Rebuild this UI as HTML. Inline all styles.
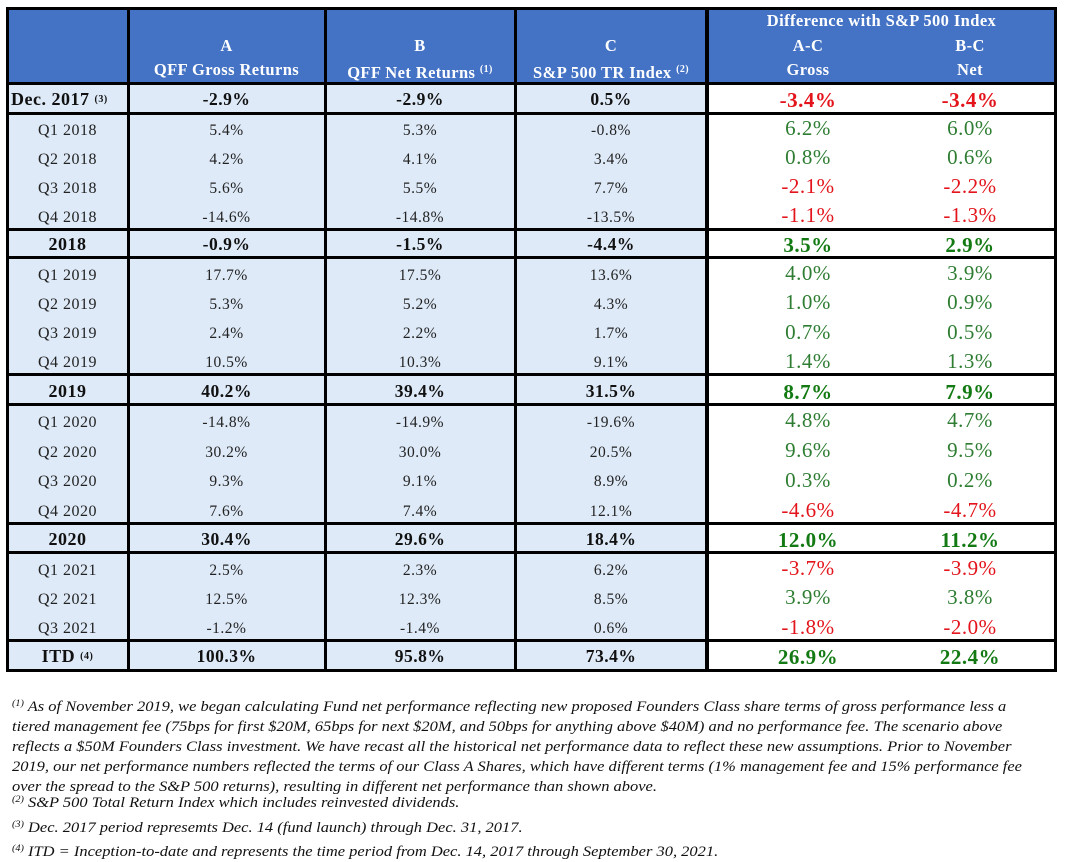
<!DOCTYPE html>
<html><head><meta charset="utf-8">
<style>
body{margin:0;width:1066px;height:862px;background:#fff;position:relative;overflow:hidden;font-family:"Liberation Serif",serif;}
.c{position:absolute;display:flex;align-items:center;justify-content:center;box-sizing:border-box;white-space:nowrap;letter-spacing:0.5px;}
.ln{position:absolute;background:#000;}
.hd{color:#fff;font-weight:bold;font-size:16.5px;position:absolute;text-align:center;white-space:nowrap;letter-spacing:0.4px;}
sup{font-size:10px;vertical-align:6px;}
.fn{position:absolute;left:12px;font-style:italic;font-size:14.5px;color:#111;white-space:nowrap;transform:scaleX(1.135);transform-origin:0 0;}
.fn sup{font-size:9px;vertical-align:5px;}
</style></head><body>
<div style="position:absolute;left:7px;top:8px;width:1049px;height:75px;background:#4472c4"></div>
<div style="position:absolute;left:7px;top:83px;width:700px;height:587px;background:#deeaf8"></div>
<div class="hd" style="left:128px;width:197px;top:34px;line-height:24px">A<br>QFF Gross Returns</div>
<div class="hd" style="left:325px;width:190px;top:34px;line-height:24px">B<br>QFF Net Returns <sup>(1)</sup></div>
<div class="hd" style="left:515px;width:192px;top:34px;line-height:24px">C<br>S&amp;P 500 TR Index <sup>(2)</sup></div>
<div class="hd" style="left:707px;width:349px;top:10px;line-height:22px">Difference with S&amp;P 500 Index</div>
<div class="hd" style="left:708px;width:200px;top:34px;line-height:24px">A-C<br>Gross</div>
<div class="hd" style="left:884px;width:172px;top:34px;line-height:24px">B-C<br>Net</div>
<div id="rows"></div>
<div class="fn" style="top:693px;line-height:20px"><sup>(1)</sup> As of November 2019, we began calculating Fund net performance reflecting new proposed Founders Class share terms of gross performance less a<br>tiered management fee (75bps for first $20M, 65bps for next $20M, and 50bps for anything above $40M) and no performance fee. The scenario above<br>reflects a $50M Founders Class investment. We have recast all the historical net performance data to reflect these new assumptions. Prior to November<br>2019, our net performance numbers reflected the terms of our Class A Shares, which have different terms (1% management fee and 15% performance fee<br>over the spread to the S&amp;P 500 returns), resulting in different net performance than shown above.</div>
<div class="fn" style="top:794px"><sup>(2)</sup> S&amp;P 500 Total Return Index which includes reinvested dividends.</div>
<div class="fn" style="top:819px"><sup>(3)</sup> Dec. 2017 period represemts Dec. 14 (fund launch) through Dec. 31, 2017.</div>
<div class="fn" style="top:843px"><sup>(4)</sup> ITD = Inception-to-date and represents the time period from Dec. 14, 2017 through September 30, 2021.</div>
<script>
const periods=["Dec. 2017","Q1 2018","Q2 2018","Q3 2018","Q4 2018","2018","Q1 2019","Q2 2019","Q3 2019","Q4 2019","2019","Q1 2020","Q2 2020","Q3 2020","Q4 2020","2020","Q1 2021","Q2 2021","Q3 2021","ITD"];
const grossA=["-2.9%","5.4%","4.2%","5.6%","-14.6%","-0.9%","17.7%","5.3%","2.4%","10.5%","40.2%","-14.8%","30.2%","9.3%","7.6%","30.4%","2.5%","12.5%","-1.2%","100.3%"];
const netB=["-2.9%","5.3%","4.1%","5.5%","-14.8%","-1.5%","17.5%","5.2%","2.2%","10.3%","39.4%","-14.9%","30.0%","9.1%","7.4%","29.6%","2.3%","12.3%","-1.4%","95.8%"];
const spxC=["0.5%","-0.8%","3.4%","7.7%","-13.5%","-4.4%","13.6%","4.3%","1.7%","9.1%","31.5%","-19.6%","20.5%","8.9%","12.1%","18.4%","6.2%","8.5%","0.6%","73.4%"];
const diffAC=["-3.4%","6.2%","0.8%","-2.1%","-1.1%","3.5%","4.0%","1.0%","0.7%","1.4%","8.7%","4.8%","9.6%","0.3%","-4.6%","12.0%","-3.7%","3.9%","-1.8%","26.9%"];
const diffBC=["-3.4%","6.0%","0.6%","-2.2%","-1.3%","2.9%","3.9%","0.9%","0.5%","1.3%","7.9%","4.7%","9.5%","0.2%","-4.7%","11.2%","-3.9%","3.8%","-2.0%","22.4%"];
const sups={"Dec. 2017":"(3)","ITD":"(4)"};
const boldRows=[0,5,10,15,19];
const tops=[83,113,142,171,200,229,258,287.25,316.5,345.75,375,405,434.75,464.5,494.25,524,553,582.3,611.6,641,670];
const root=document.getElementById('rows');
function cell(x,w,y,h,txt,style,name){
  const d=document.createElement('div');
  d.className='c';
  
  
  d.style.cssText=`left:${x}px;width:${w}px;top:${y}px;height:${h}px;`+style;
  d.innerHTML=txt;
  root.appendChild(d);
}
function line(x,y,w,h,name){
  const d=document.createElement('div');
  d.className='ln';
  
  
  d.style.cssText=`left:${x}px;top:${y}px;width:${w}px;height:${h}px`;
  root.appendChild(d);
}
periods.forEach((p,i)=>{
  const y=tops[i],h=tops[i+1]-tops[i];
  const b=boldRows.includes(i);
  const off=b?1:3;
  const lf=b?'font-weight:bold;font-size:17.5px;color:#111;':'font-size:15.5px;color:#222;';
  const pf=b?'font-weight:bold;font-size:18px;color:#111;':'font-size:16px;color:#222;';
  const lab=p+(sups[p]?'&nbsp;<sup>'+sups[p]+'</sup>':'');
  cell(7,121,y+off,h,lab,pf+(i===0?'justify-content:flex-start;padding-left:4px;':''),'period-label');
  cell(128,197,y+off,h,grossA[i],lf,'gross-return');
  cell(325,190,y+off,h,netB[i],lf,'net-return');
  cell(515,192,y+off,h,spxC[i],lf,'sp500-return');
  [[diffAC[i],708,200],[diffBC[i],884,172]].forEach(([v,x,w],k)=>{
    const neg=v.startsWith('-');
    const col=neg?'#e3141b':(b?'#137a13':'#2e7d32');
    const f=b?'font-weight:bold;font-size:21px;':'font-size:21px;';
    cell(x,w,y+(b?2:1),h,v,f+'color:'+col+';',k?'diff-b-c':'diff-a-c');
  });
});
line(7,7,1050,3,'table-top-border');
line(7,82,1050,3,'header-bottom-border');
[113,229,257,374,404,523,552,640].forEach(y=>line(7,y-1,1050,3,'row-border'));
line(7,669,1050,3,'table-bottom-border');
line(6,7,3,665,'table-left-border');
line(1054,7,3,665,'table-right-border');
line(127,7,3,665,'col-border');
line(324,7,3,665,'col-border');
line(514,7,3,665,'col-border');
line(705,7,4,665,'diff-col-border');
</script>
</body></html>
